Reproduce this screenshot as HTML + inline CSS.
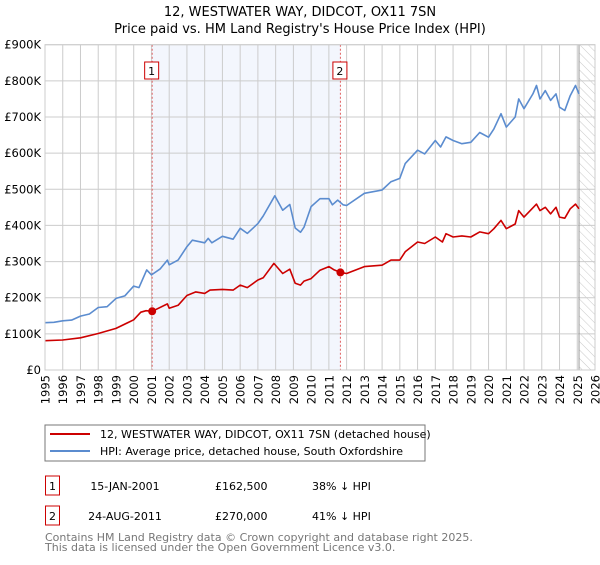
<!DOCTYPE html>
<html><head><meta charset="utf-8"><style>
body{margin:0;background:#fff}
svg{font-family:"DejaVu Sans","Liberation Sans",sans-serif}
</style></head><body>
<svg id="c" width="600" height="560" viewBox="0 0 600 560" xmlns="http://www.w3.org/2000/svg">
<defs><pattern id="hatch" width="6" height="6" patternUnits="userSpaceOnUse" patternTransform="rotate(-45)"><line x1="0" y1="0" x2="0" y2="6" stroke="#bbb" stroke-width="0.8"/></pattern></defs>
<text x="300" y="16" text-anchor="middle" font-size="13">12, WESTWATER WAY, DIDCOT, OX11 7SN</text>
<text x="300" y="33" text-anchor="middle" font-size="13">Price paid vs. HM Land Registry's House Price Index (HPI)</text>
<g id="plot"></g>
<rect x="45" y="425" width="380" height="36" fill="#fff" stroke="#777"/>
<line x1="50" y1="434" x2="90" y2="434" stroke="#cc0000" stroke-width="2"/>
<text x="100" y="438" font-size="11">12, WESTWATER WAY, DIDCOT, OX11 7SN (detached house)</text>
<line x1="50" y1="451" x2="90" y2="451" stroke="#5b8ccf" stroke-width="2"/>
<text x="100" y="455" font-size="11">HPI: Average price, detached house, South Oxfordshire</text>
<g font-size="11">
<rect x="45.5" y="476" width="14" height="19" fill="none" stroke="#cc0000"/>
<text x="52.5" y="490" text-anchor="middle">1</text>
<text x="125" y="490" text-anchor="middle">15-JAN-2001</text>
<text x="215" y="490">£162,500</text>
<text x="312" y="490">38% ↓ HPI</text>
<rect x="45.5" y="506" width="14" height="19" fill="none" stroke="#cc0000"/>
<text x="52.5" y="520" text-anchor="middle">2</text>
<text x="125" y="520" text-anchor="middle">24-AUG-2011</text>
<text x="215" y="520">£270,000</text>
<text x="312" y="520">41% ↓ HPI</text>
</g>
<text x="45" y="541" font-size="11" fill="#777">Contains HM Land Registry data © Crown copyright and database right 2025.</text>
<text x="45" y="551" font-size="11" fill="#777">This data is licensed under the Open Government Licence v3.0.</text>
</svg>
<script>
const hpiYears=[1995,1995.5,1996,1996.5,1997,1997.5,1998,1998.5,1999,1999.5,2000,2000.3,2000.73,2001.0,2001.5,2001.9,2002,2002.5,2003,2003.3,2004,2004.2,2004.4,2005,2005.6,2006,2006.4,2007,2007.3,2007.95,2008.4,2008.8,2009.1,2009.4,2009.6,2010,2010.5,2011,2011.2,2011.5,2011.8,2012,2013,2014,2014.5,2015,2015.3,2016,2016.4,2017,2017.3,2017.6,2018,2018.5,2019,2019.5,2020,2020.3,2020.7,2021,2021.5,2021.7,2022,2022.5,2022.7,2022.9,2023.2,2023.5,2023.8,2024,2024.3,2024.6,2024.9,2025.1];
const hpiValues=[131,132,136,138,149,155,173,175,198,205,232,228,277,263,280,304,291,304,341,359,352,364,352,370,362,392,378,405,426,482,442,458,393,381,395,452,474,474,457,470,457,455,489,498,521,530,571,608,598,635,617,645,635,626,630,657,644,667,709,672,700,750,723,764,787,750,773,746,764,727,718,759,787,764];
const priceYears=[1995,1996,1997,1998,1999,2000,2000.4,2000.7,2001.04,2001.9,2002,2002.5,2003,2003.5,2004,2004.3,2005,2005.6,2006,2006.4,2007,2007.3,2007.9,2008.4,2008.8,2009.1,2009.4,2009.6,2010,2010.5,2011,2011.3,2011.65,2012,2013,2014,2014.5,2015,2015.3,2016,2016.4,2017,2017.4,2017.6,2018,2018.5,2019,2019.5,2020,2020.3,2020.7,2021,2021.5,2021.7,2022,2022.7,2022.9,2023.2,2023.5,2023.8,2024,2024.3,2024.6,2024.9,2025.1];
const priceValues=[81,83,89,101,115,139,160,164,162.5,183,171,179,206,216,212,221,223,221,235,228,249,255,295,267,279,240,235,246,253,276,286,277,270,267,286,290,304,304,327,354,350,368,354,377,368,371,368,382,377,391,414,391,404,441,423,459,441,450,432,450,423,420,446,459,446];
const saleYears=[2001.04,2011.65];
const saleValues=[162.5,270];
const saleLabels=["1","2"];
const yTicks=[0,100,200,300,400,500,600,700,800,900];
const yTickLabels=["£0","£100K","£200K","£300K","£400K","£500K","£600K","£700K","£800K","£900K"];
const xTicks=[1995,1996,1997,1998,1999,2000,2001,2002,2003,2004,2005,2006,2007,2008,2009,2010,2011,2012,2013,2014,2015,2016,2017,2018,2019,2020,2021,2022,2023,2024,2025,2026];
const dataEnd=2025.1;

const L=45,R=595,T=44.7,B=370,X0=1995,X1=2026,YMAX=900;
const sx=v=>L+(v-X0)/(X1-X0)*(R-L);
const sy=v=>B-v/YMAX*(B-T);
const NS="http://www.w3.org/2000/svg";
const g=document.getElementById('plot');
function mk(t,a,p){const e=document.createElementNS(NS,t);for(const k in a)e.setAttribute(k,a[k]);(p||g).appendChild(e);return e;}

let e=mk('rect',{x:sx(saleYears[0]),y:T,width:sx(saleYears[1])-sx(saleYears[0]),height:B-T,fill:'#f3f6fd'});


e=mk('rect',{x:sx(dataEnd),y:T,width:R-sx(dataEnd),height:B-T,fill:'url(#hatch)'});


xTicks.forEach(v=>{
  let l=mk('line',{x1:sx(v),x2:sx(v),y1:T,y2:B,stroke:'#ccc','stroke-width':1});
  
  
  const tx=sx(v)+4.5, ty=B+5;
  let t=mk('text',{x:tx,y:ty,transform:'rotate(-90 '+tx.toFixed(1)+' '+ty.toFixed(1)+')','text-anchor':'end','font-size':11.5});
  
  
  t.textContent=v;
});
yTicks.forEach((v,i)=>{
  let l=mk('line',{x1:L,x2:R,y1:sy(v),y2:sy(v),stroke:'#ccc','stroke-width':1});
  
  
  let t=mk('text',{x:L-4,y:sy(v)+4,'text-anchor':'end','font-size':11.5});
  
  
  t.textContent=yTickLabels[i];
});
e=mk('line',{x1:sx(dataEnd),x2:sx(dataEnd),y1:T,y2:B,stroke:'#999','stroke-width':1});


saleYears.forEach((v,i)=>{
  let l=mk('line',{x1:sx(v),x2:sx(v),y1:T,y2:B,stroke:'#e06060','stroke-width':1,'stroke-dasharray':'2,2'});
  
  
  let r=mk('rect',{x:sx(v)-7.5,y:62,width:14,height:17,fill:'#fff',stroke:'#cc0000'});
  
  
  let t=mk('text',{x:sx(v)-0.5,y:75,'text-anchor':'middle','font-size':11});
  
  
  t.textContent=saleLabels[i];
});
function line(xs,ys,c,n){
  let p=mk('polyline',{points:xs.map((x,i)=>sx(x).toFixed(1)+','+sy(ys[i]).toFixed(1)).join(' '),fill:'none',stroke:c,'stroke-width':1.6,'stroke-linejoin':'round'});
  
  
}
line(hpiYears,hpiValues,'#5b8ccf','hpi-line');
line(priceYears,priceValues,'#cc0000','price-line');
saleYears.forEach((v,i)=>{
  let c=mk('circle',{cx:sx(v),cy:sy(saleValues[i]),r:4,fill:'#cc0000'});
  
  
});
e=mk('rect',{x:L,y:T,width:R-L,height:B-T,fill:'none',stroke:'#ccc'});


</script>
</body></html>
